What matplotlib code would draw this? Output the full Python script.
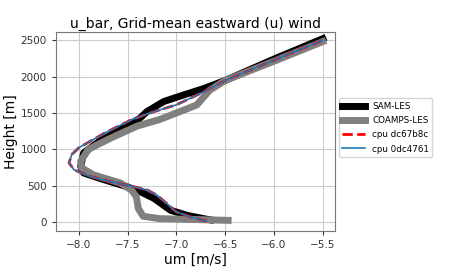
import matplotlib
matplotlib.use("Agg")
import matplotlib.pyplot as plt

# profiles (um [m/s] vs height [m])
sam_u = [-6.65, -6.72, -6.89, -7.06, -7.23, -7.37, -7.51, -7.74, -7.95, -7.98, -7.95, -7.8,
         -7.55, -7.38, -7.30, -7.13, -6.93, -6.72, -6.5, -6.0, -5.5]
sam_z = [30, 47, 93, 163, 326, 418, 488, 582, 675, 767, 950, 1100,
         1290, 1420, 1520, 1656, 1745, 1835, 1946, 2240, 2520]

coamps_u = [-6.47, -7.17, -7.34, -7.39, -7.41, -7.46, -7.57, -7.85, -7.97, -7.98, -7.9,
            -7.68, -7.4, -7.17, -6.96, -6.79, -6.66, -6.5, -6.0, -5.5]
coamps_z = [24, 47, 80, 187, 350, 440, 535, 650, 745, 837, 1000,
            1150, 1320, 1410, 1520, 1610, 1810, 1946, 2210, 2480]

cpu_u = [-6.69, -6.83, -7.0, -7.1, -7.2, -7.3, -7.44, -7.68, -7.91, -8.05, -8.1, -8.07,
         -8.0, -7.74, -7.47, -7.27, -7.0, -6.72, -6.5, -6.0, -5.5]
cpu_z = [14, 61, 140, 257, 372, 442, 488, 558, 637, 721, 814, 930,
         1020, 1220, 1400, 1500, 1611, 1790, 1946, 2225, 2500]

fig = plt.figure(figsize=(4.5, 2.7), dpi=100)
ax = fig.add_axes([0.124, 0.144, 0.62, 0.737])

ax.plot(sam_u, sam_z, color="black", lw=5, label="SAM-LES")
ax.plot(coamps_u, coamps_z, color="gray", lw=5, label="COAMPS-LES")
ax.plot(cpu_u, cpu_z, color="red", lw=2, ls="--", label="cpu dc67b8c")
ax.plot(cpu_u, cpu_z, color="tab:blue", lw=1.2, label="cpu 0dc4761")

ax.set_xlim(-8.235, -5.377)
ax.set_ylim(-124, 2610)
ax.set_xticks([-8.0, -7.5, -7.0, -6.5, -6.0, -5.5])
ax.grid(True, color="#cccccc", lw=0.8)
ax.tick_params(labelsize=7.5, colors="#333333", length=3)
for s in ax.spines.values():
    s.set_color("#777777")

ax.set_title("u_bar, Grid-mean eastward (u) wind", fontsize=10, pad=3)
ax.set_xlabel("um [m/s]", fontsize=10, labelpad=2)
ax.set_ylabel("Height [m]", fontsize=10, labelpad=2)

ax.legend(loc="center left", bbox_to_anchor=(1.005, 0.52), fontsize=6.3,
          handlelength=2.6, borderaxespad=0.3, labelspacing=0.6)

fig.savefig("out.png", dpi=100)
